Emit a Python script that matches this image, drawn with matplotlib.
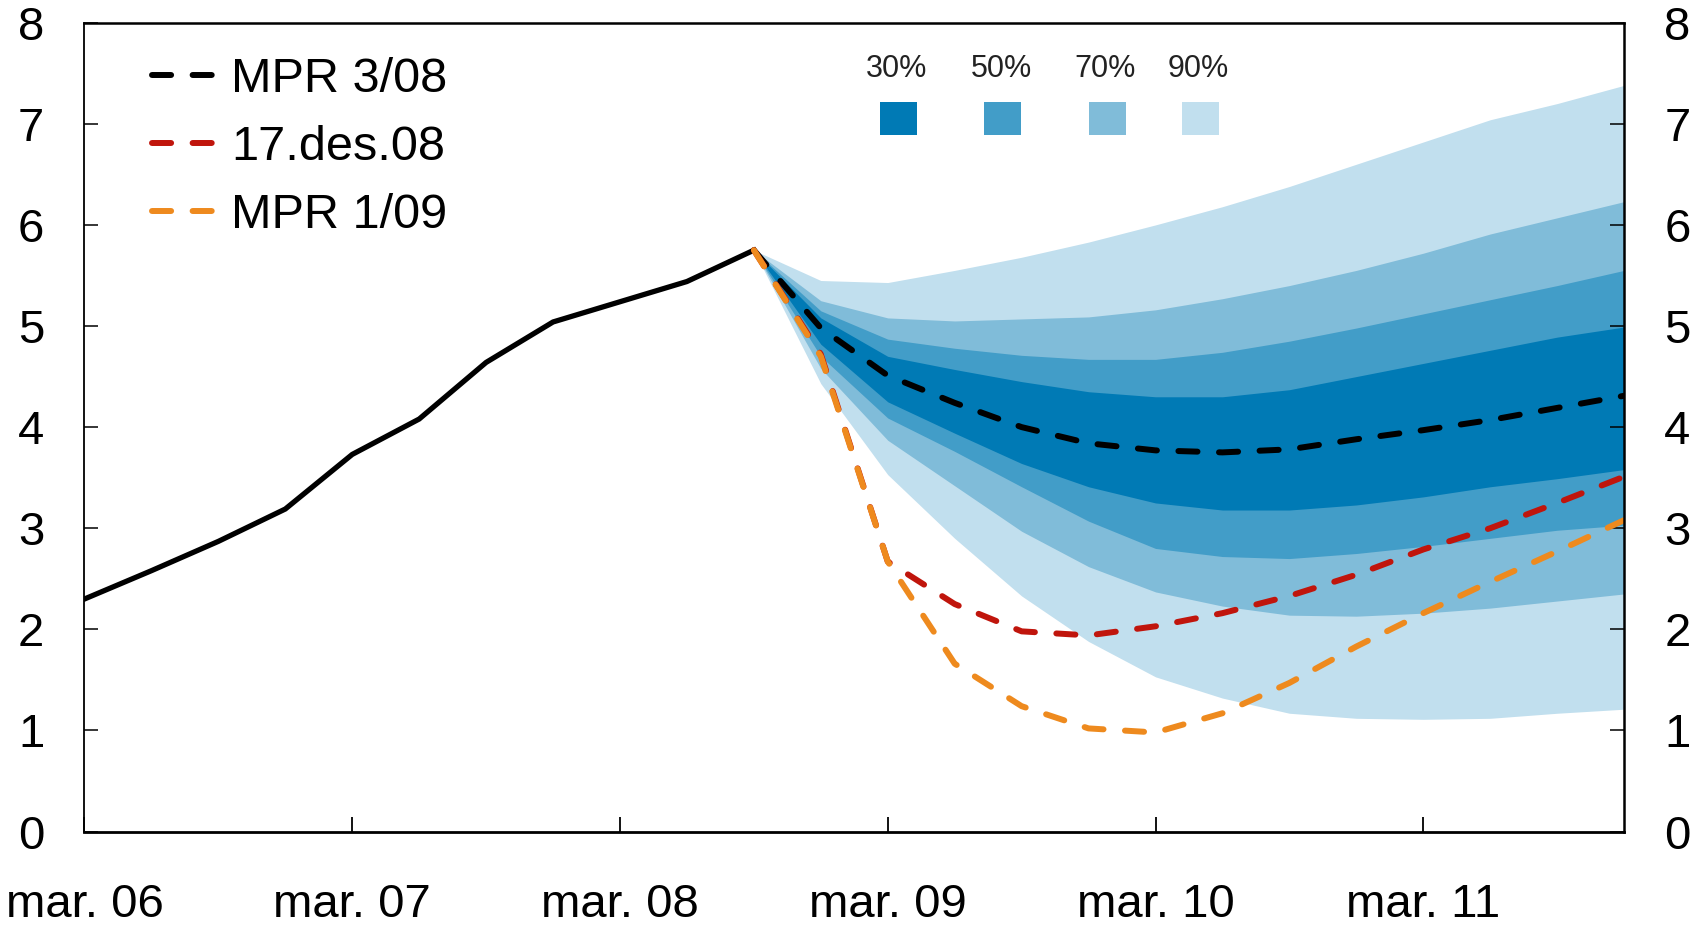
import matplotlib
matplotlib.use("Agg")
import matplotlib.pyplot as plt
from matplotlib.patches import Rectangle
import numpy as np

plt.rcParams['font.family'] = ['Liberation Sans', 'DejaVu Sans']

# ---- data (quarterly index: 0 = mar. 06 ... 23 = des. 11) ----
hist_x = list(range(0, 11))
hist = [2.30, 2.58, 2.87, 3.19, 3.73, 4.08, 4.64, 5.04, 5.24, 5.44, 5.75]

fc_x = list(range(10, 24))
mpr308 = [5.75, 4.98, 4.51, 4.24, 4.00, 3.84, 3.77, 3.75, 3.78, 3.88, 3.97, 4.07, 4.19, 4.31]
des08 = [5.75, 4.72, 2.67, 2.25, 1.98, 1.94, 2.03, 2.16, 2.33, 2.54, 2.79, 3.00, 3.25, 3.51]
mpr109 = [5.75, 4.70, 2.67, 1.66, 1.24, 1.02, 0.98, 1.17, 1.47, 1.83, 2.16, 2.47, 2.77, 3.08]

lo90 = [5.75, 4.43, 3.53, 2.90, 2.33, 1.88, 1.53, 1.32, 1.17, 1.12, 1.11, 1.12, 1.17, 1.21]
lo70 = [5.75, 4.58, 3.87, 3.42, 2.97, 2.62, 2.37, 2.23, 2.14, 2.13, 2.16, 2.21, 2.28, 2.35]
lo50 = [5.75, 4.70, 4.09, 3.76, 3.41, 3.07, 2.80, 2.72, 2.70, 2.75, 2.82, 2.90, 2.98, 3.03]
lo30 = [5.75, 4.82, 4.25, 3.94, 3.64, 3.41, 3.25, 3.18, 3.18, 3.23, 3.31, 3.41, 3.49, 3.58]
hi30 = [5.75, 5.08, 4.70, 4.57, 4.45, 4.35, 4.30, 4.30, 4.37, 4.50, 4.63, 4.76, 4.89, 4.99]
hi50 = [5.75, 5.15, 4.87, 4.78, 4.71, 4.67, 4.67, 4.74, 4.85, 4.98, 5.12, 5.26, 5.40, 5.55]
hi70 = [5.75, 5.25, 5.08, 5.05, 5.07, 5.09, 5.16, 5.27, 5.40, 5.55, 5.72, 5.91, 6.07, 6.23]
hi90 = [5.75, 5.45, 5.43, 5.55, 5.68, 5.83, 6.00, 6.18, 6.38, 6.60, 6.82, 7.04, 7.20, 7.38]

xtick_pos = [0, 4, 8, 12, 16, 20]
xtick_labels = ["mar. 06", "mar. 07", "mar. 08", "mar. 09", "mar. 10", "mar. 11"]
fan_labels = ["30%", "50%", "70%", "90%"]
series_labels = ["MPR 3/08", "17.des.08", "MPR 1/09"]

# ---- styles ----
c30, c50, c70, c90 = "#007AB5", "#429DC8", "#80BCD9", "#C1DFEE"
c_red, c_orange = "#C0150C", "#EE8A1E"

fig = plt.figure(figsize=(16.93, 9.26), dpi=100)
ax = fig.add_axes([0.0499, 0.1020, 0.9094, 0.8735])

ax.fill_between(fc_x, lo90, hi90, color=c90, lw=0)
ax.fill_between(fc_x, lo70, hi70, color=c70, lw=0)
ax.fill_between(fc_x, lo50, hi50, color=c50, lw=0)
ax.fill_between(fc_x, lo30, hi30, color=c30, lw=0)

ax.plot(hist_x, hist, color="black", lw=3.8, solid_joinstyle="miter")
lw = 4.3
dash = (3.2, 3.6)
ax.plot(fc_x, mpr308, color="black", lw=lw, dashes=dash, dash_capstyle="round", label=series_labels[0])
ax.plot(fc_x, des08, color=c_red, lw=lw, dashes=dash, dash_capstyle="round", label=series_labels[1])
ax.plot(fc_x, mpr109, color=c_orange, lw=lw, dashes=dash, dash_capstyle="round", label=series_labels[2])

ax.set_xlim(0, 23)
ax.set_ylim(0, 8)
ax.set_yticks(range(0, 9))
ax.set_xticks(xtick_pos)
ax.set_xticklabels(xtick_labels)

ax.tick_params(axis="x", direction="in", length=11, width=1.3, labelsize=34, pad=37, top=False)
ax.tick_params(axis="y", direction="in", length=10, width=1.1, labelsize=34, pad=29,
               left=True, right=True, labelleft=True, labelright=True)
for t in ax.yaxis.get_major_ticks():
    t.tick1line.set_color("#555555")
    t.tick2line.set_color("black")

for side, w in [("left", 1.3), ("bottom", 2.0), ("top", 1.8), ("right", 1.8)]:
    ax.spines[side].set_linewidth(w)
    ax.spines[side].set_color("black")

leg = ax.legend(loc="upper left", bbox_to_anchor=(0.044, 0.958), frameon=False,
                fontsize=35, handlelength=1.33, handletextpad=0.29, labelspacing=0.475,
                borderpad=0, borderaxespad=0)

# fan legend
sq_x = [0.5167, 0.5842, 0.6524, 0.7128]
tx_x = [0.5276, 0.5953, 0.6628, 0.7232]
for lab, col, sx, tx in zip(fan_labels, [c30, c50, c70, c90], sq_x, tx_x):
    ax.add_patch(Rectangle((sx, 0.8612), 0.0238, 0.0412, transform=ax.transAxes,
                           facecolor=col, edgecolor="none", clip_on=False))
    ax.text(tx, 0.9428, lab, transform=ax.transAxes, ha="center", va="center",
            fontsize=22, color="#222222")

fig.savefig("out.png", dpi=100)
